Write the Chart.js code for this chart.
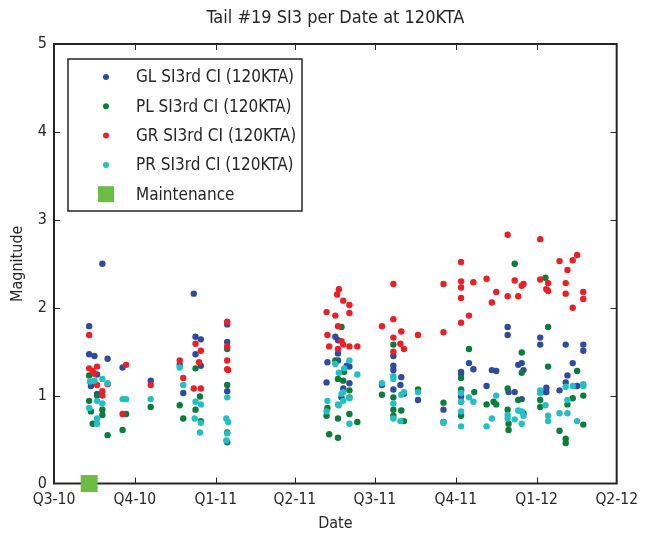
<!DOCTYPE html>
<html>
<head>
<meta charset="utf-8">
<title>Tail #19 SI3 per Date at 120KTA</title>
<script src="https://cdn.jsdelivr.net/npm/chart.js@4.4.1/dist/chart.umd.min.js"></script>
<style>
	html, body { margin: 0; padding: 0; background: #fff; }
	#wrap { width: 645px; height: 536px; }
</style>
</head>
<body>
<div id="wrap"><canvas id="siChart" width="645" height="536"></canvas></div>
<script>
var FONT = '"Liberation Sans Narrow", "Arial Narrow", "DejaVu Sans Condensed", "Liberation Sans", sans-serif';

// quarter ticks on the date axis
var quarterDates = ['2010-07-01', '2010-10-01', '2011-01-01', '2011-04-01', '2011-07-01', '2011-10-01', '2012-01-01', '2012-04-01'];
var quarterLabels = ['Q3-10', 'Q4-10', 'Q1-11', 'Q2-11', 'Q3-11', 'Q4-11', 'Q1-12', 'Q2-12'];
var magnitudeTicks = [0, 1, 2, 3, 4, 5];

var seriesNames = ['GL SI3rd CI (120KTA)', 'PL SI3rd CI (120KTA)', 'GR SI3rd CI (120KTA)', 'PR SI3rd CI (120KTA)', 'Maintenance'];
var seriesColors = ['#2f4b9f', '#0c7c3d', '#ec1f26', '#22bfc3', '#6cbd45'];

var glValues = [
	['2010-08-10', 1.79], ['2010-08-10', 1.47], ['2010-08-16', 1.45], ['2010-08-12', 1.11], ['2010-08-31', 1.42],
	['2010-08-19', 1.02], ['2010-08-25', 2.50], ['2010-08-19', 1.24],
	['2010-09-17', 1.32], ['2010-10-19', 1.17], ['2010-11-21', 1.35], ['2010-11-25', 1.03],
	['2010-12-07', 2.16], ['2010-12-09', 1.67], ['2010-12-15', 1.64], ['2010-12-09', 1.47], ['2010-12-15', 1.34],
	['2011-01-14', 1.81], ['2011-01-14', 1.61], ['2011-01-14', 1.05],
	['2011-05-17', 1.67], ['2011-05-20', 1.63], ['2011-05-20', 1.48], ['2011-05-08', 1.38], ['2011-05-20', 1.40],
	['2011-05-30', 1.34], ['2011-06-02', 1.33], ['2011-05-07', 1.15], ['2011-06-02', 1.14], ['2011-05-26', 1.08],
	['2011-05-24', 0.98],
	['2011-07-22', 1.45], ['2011-07-22', 1.34], ['2011-07-22', 1.29], ['2011-07-31', 1.21], ['2011-07-09', 1.12],
	['2011-07-22', 1.07], ['2011-07-30', 1.12], ['2011-08-03', 1.02], ['2011-08-19', 0.95],
	['2011-09-17', 0.84], ['2011-10-07', 1.27], ['2011-10-07', 1.25], ['2011-10-07', 1.06], ['2011-10-07', 0.99],
	['2011-10-07', 0.93], ['2011-10-16', 1.37], ['2011-10-21', 1.30], ['2011-11-05', 1.11], ['2011-11-11', 1.29],
	['2011-11-16', 1.28], ['2011-11-29', 1.78], ['2011-11-29', 1.69], ['2011-11-30', 1.04], ['2011-12-07', 1.04],
	['2011-12-11', 1.35], ['2011-12-15', 1.37], ['2011-12-17', 1.29], ['2011-12-15', 0.96],
	['2012-01-05', 1.66], ['2012-01-05', 1.58], ['2012-01-12', 1.09], ['2012-01-12', 1.04], ['2012-01-11', 1.04],
	['2012-01-27', 1.06], ['2012-02-03', 1.58], ['2012-02-05', 1.23], ['2012-02-03', 1.15], ['2012-02-11', 1.37],
	['2012-02-16', 1.11], ['2012-02-23', 1.58], ['2012-02-23', 1.51]
];

var plValues = [
	['2010-08-10', 1.23], ['2010-08-19', 1.00], ['2010-08-10', 0.94], ['2010-08-12', 0.82], ['2010-08-25', 0.84],
	['2010-08-25', 0.78], ['2010-08-14', 0.68], ['2010-08-31', 0.55],
	['2010-09-21', 0.79], ['2010-09-17', 0.61], ['2010-10-19', 0.87], ['2010-11-21', 0.89], ['2010-11-25', 0.74],
	['2010-12-09', 1.31], ['2010-12-14', 0.99], ['2010-12-09', 0.84], ['2010-12-15', 0.71],
	['2011-01-14', 1.53], ['2011-01-14', 1.12], ['2011-01-14', 0.58], ['2011-01-14', 0.47],
	['2011-05-24', 1.78], ['2011-05-17', 1.40], ['2011-05-27', 1.27], ['2011-05-20', 1.19], ['2011-05-26', 1.17],
	['2011-06-02', 1.06], ['2011-06-02', 0.98], ['2011-05-08', 0.86], ['2011-05-07', 0.77], ['2011-05-20', 0.74],
	['2011-06-02', 0.79], ['2011-06-11', 0.70], ['2011-05-10', 0.56], ['2011-05-20', 0.52],
	['2011-07-22', 1.58], ['2011-08-19', 1.07], ['2011-07-09', 1.01], ['2011-07-22', 0.98], ['2011-07-22', 0.84],
	['2011-07-31', 0.83], ['2011-07-22', 0.77], ['2011-08-03', 0.71],
	['2011-09-17', 0.92], ['2011-09-17', 0.70], ['2011-10-07', 1.20], ['2011-10-07', 1.07], ['2011-10-07', 0.77],
	['2011-10-16', 1.53], ['2011-10-22', 1.04], ['2011-11-05', 0.90], ['2011-11-13', 0.93], ['2011-11-16', 0.90],
	['2011-11-29', 1.08], ['2011-11-29', 0.84], ['2011-11-30', 0.68], ['2011-11-30', 0.61], ['2011-12-07', 2.50],
	['2011-12-11', 0.95], ['2011-12-15', 1.49], ['2011-12-15', 1.26], ['2011-12-17', 0.80],
	['2012-01-05', 0.95], ['2012-01-05', 0.87], ['2012-01-11', 2.34], ['2012-01-14', 1.78], ['2012-01-14', 1.33],
	['2012-01-27', 0.60], ['2012-02-03', 0.51], ['2012-02-03', 0.46], ['2012-02-05', 0.90], ['2012-02-11', 0.97],
	['2012-02-16', 1.28], ['2012-02-23', 1.00], ['2012-02-23', 0.67]
];

var grValues = [
	['2010-08-10', 1.69], ['2010-08-10', 1.31], ['2010-08-14', 1.28], ['2010-08-19', 1.33], ['2010-08-16', 1.25],
	['2010-08-19', 1.12], ['2010-08-31', 1.13], ['2010-08-25', 1.05], ['2010-08-25', 1.00],
	['2010-09-21', 1.35], ['2010-09-17', 0.79], ['2010-10-19', 1.12], ['2010-11-21', 1.40], ['2010-11-25', 1.20],
	['2010-12-09', 1.59], ['2010-12-15', 1.51], ['2010-12-13', 1.38], ['2010-12-07', 1.08], ['2010-12-15', 1.08],
	['2011-01-14', 1.84], ['2011-01-14', 1.56], ['2011-01-14', 1.40], ['2011-01-14', 1.30], ['2011-01-15', 1.29],
	['2011-05-21', 2.21], ['2011-05-19', 2.15], ['2011-05-26', 2.08], ['2011-06-02', 2.03], ['2011-05-07', 1.95],
	['2011-05-17', 1.91], ['2011-06-02', 1.94], ['2011-05-20', 1.79], ['2011-05-08', 1.69], ['2011-05-24', 1.62],
	['2011-05-26', 1.58], ['2011-05-10', 1.56], ['2011-05-20', 1.53], ['2011-06-02', 1.56], ['2011-06-11', 1.56],
	['2011-07-22', 2.27], ['2011-07-22', 1.87], ['2011-07-09', 1.79], ['2011-07-31', 1.73], ['2011-07-22', 1.66],
	['2011-07-30', 1.59], ['2011-08-03', 1.53], ['2011-07-22', 1.50], ['2011-08-19', 1.69],
	['2011-09-17', 2.27], ['2011-09-17', 1.72], ['2011-10-07', 2.52], ['2011-10-07', 2.30], ['2011-10-07', 2.23],
	['2011-10-07', 2.11], ['2011-10-07', 1.83], ['2011-10-16', 1.91], ['2011-10-21', 2.29], ['2011-11-05', 2.33],
	['2011-11-11', 2.06], ['2011-11-16', 2.18], ['2011-11-29', 2.83], ['2011-11-29', 2.13], ['2011-12-07', 2.31],
	['2011-12-11', 2.13], ['2011-12-15', 2.25], ['2011-12-17', 2.27],
	['2012-01-05', 2.78], ['2012-01-05', 2.32], ['2012-01-12', 2.21], ['2012-01-14', 2.19], ['2012-01-14', 2.28],
	['2012-01-27', 2.53], ['2012-02-05', 2.43], ['2012-02-11', 2.54], ['2012-02-16', 2.60], ['2012-02-03', 2.28],
	['2012-02-03', 2.16], ['2012-02-11', 2.00], ['2012-02-23', 2.18], ['2012-02-23', 2.10]
];

var prValues = [
	['2010-08-11', 1.16], ['2010-08-16', 1.17], ['2010-08-25', 1.19], ['2010-08-31', 1.14], ['2010-08-19', 0.94],
	['2010-08-25', 0.91], ['2010-08-10', 0.86], ['2010-08-19', 0.74], ['2010-08-19', 0.68],
	['2010-09-17', 0.96], ['2010-09-21', 0.96], ['2010-10-19', 0.96], ['2010-11-21', 1.32], ['2010-11-25', 1.12],
	['2010-12-09', 0.93], ['2010-12-15', 0.90], ['2010-12-08', 0.74], ['2010-12-15', 0.69], ['2010-12-14', 0.58],
	['2011-01-14', 0.98], ['2011-01-13', 0.74], ['2011-01-15', 0.70], ['2011-01-14', 0.57], ['2011-01-13', 0.49],
	['2011-06-02', 1.40], ['2011-05-17', 1.36], ['2011-05-27', 1.31], ['2011-05-21', 1.26], ['2011-06-11', 1.24],
	['2011-05-26', 1.04], ['2011-05-24', 1.02], ['2011-06-02', 0.97], ['2011-05-08', 0.94], ['2011-05-07', 0.82],
	['2011-05-20', 0.90], ['2011-05-21', 0.89], ['2011-05-26', 0.94], ['2011-06-02', 0.68],
	['2011-07-22', 1.22], ['2011-07-22', 1.19], ['2011-07-09', 1.14], ['2011-08-19', 1.04], ['2011-07-31', 1.01],
	['2011-08-03', 1.04], ['2011-07-22', 0.91], ['2011-07-22', 0.74], ['2011-07-30', 0.71],
	['2011-09-17', 0.69], ['2011-09-17', 0.70], ['2011-10-07', 1.03], ['2011-10-07', 0.93], ['2011-10-07', 0.82],
	['2011-10-07', 0.65], ['2011-10-16', 0.98], ['2011-10-21', 0.93], ['2011-11-05', 0.65], ['2011-11-11', 0.74],
	['2011-11-16', 1.00], ['2011-11-29', 0.78], ['2011-11-29', 0.74], ['2011-12-07', 0.73], ['2011-12-11', 0.83],
	['2011-12-15', 0.82], ['2011-12-17', 0.77], ['2011-12-15', 0.68],
	['2012-01-05', 1.06], ['2012-01-05', 1.03], ['2012-01-11', 0.89], ['2012-01-14', 0.77], ['2012-01-14', 0.71],
	['2012-01-27', 0.80], ['2012-02-05', 0.80], ['2012-02-03', 1.10], ['2012-02-11', 1.11], ['2012-02-05', 0.95],
	['2012-02-16', 0.71], ['2012-02-23', 1.13], ['2012-02-23', 1.11]
];

var maintenanceValues = [['2010-08-10', 0]];

// days since the first quarter tick, so a plain linear axis can be used
function dayNum(s) {
	var p = s.split('-');
	var t0 = Date.UTC(2010, 6, 1);
	return (Date.UTC(+p[0], +p[1] - 1, +p[2]) - t0) / 86400000;
}

function toPoints(list) {
	return list.map(function(d) {
		return { x: dayNum(d[0]), y: d[1] };
	});
}

var quarterDays = quarterDates.map(dayNum);

// box around the plot with the ticks pointing inwards, MATLAB style
var boxPlugin = {
	id: 'boxPlugin',
	beforeDatasetsDraw: function(chart) {
		var ctx = chart.ctx;
		var a = chart.chartArea;
		var xs = chart.scales.x;
		var ys = chart.scales.y;
		var tl = 6;
		ctx.save();
		ctx.strokeStyle = '#262626';
		ctx.lineWidth = 1;
		ctx.beginPath();
		quarterDays.forEach(function(d, i) {
			if (i === 0 || i === quarterDays.length - 1) return;
			var px = Math.round(xs.getPixelForValue(d)) + 0.5;
			ctx.moveTo(px, a.bottom);
			ctx.lineTo(px, a.bottom - tl);
			ctx.moveTo(px, a.top);
			ctx.lineTo(px, a.top + tl);
		});
		magnitudeTicks.forEach(function(v, i) {
			if (i === 0 || i === magnitudeTicks.length - 1) return;
			var py = Math.round(ys.getPixelForValue(v)) + 0.5;
			ctx.moveTo(a.left, py);
			ctx.lineTo(a.left + tl, py);
			ctx.moveTo(a.right, py);
			ctx.lineTo(a.right - tl, py);
		});
		ctx.stroke();
		ctx.lineWidth = 2;
		ctx.strokeRect(a.left, a.top, a.right - a.left, a.bottom - a.top);
		ctx.restore();
	}
};

// legend box inside the plot, upper left
var legendBox = {
	id: 'legendBox',
	afterDatasetsDraw: function(chart) {
		var ctx = chart.ctx;
		var a = chart.chartArea;
		var bx = a.left + 14, by = a.top + 15, bw = 234, bh = 152;
		var rowH = 29.3;
		ctx.save();
		ctx.fillStyle = '#fff';
		ctx.fillRect(bx, by, bw, bh);
		ctx.strokeStyle = '#262626';
		ctx.lineWidth = 1.5;
		ctx.strokeRect(bx, by, bw, bh);
		ctx.font = '17px ' + FONT;
		ctx.textBaseline = 'middle';
		ctx.textAlign = 'left';
		seriesNames.forEach(function(name, i) {
			var cy = by + 18 + i * rowH;
			var mx = bx + 38;
			ctx.fillStyle = seriesColors[i];
			if (i === 4) {
				ctx.fillRect(mx - 8, cy - 8, 16, 16);
			} else {
				ctx.beginPath();
				ctx.arc(mx, cy, 3, 0, Math.PI * 2);
				ctx.fill();
			}
			ctx.fillStyle = '#262626';
			ctx.fillText(name, bx + 68, cy + 1);
		});
		ctx.restore();
	}
};

function dotSet(label, values, color, order) {
	return {
		label: label,
		data: toPoints(values),
		backgroundColor: color,
		borderWidth: 0,
		pointRadius: 3.2,
		pointHoverRadius: 3.2,
		order: order
	};
}

var chartConfig = {
	type: 'scatter',
	data: {
		datasets: [
			dotSet(seriesNames[0], glValues, seriesColors[0], 4),
			dotSet(seriesNames[1], plValues, seriesColors[1], 3),
			dotSet(seriesNames[2], grValues, seriesColors[2], 2),
			dotSet(seriesNames[3], prValues, seriesColors[3], 1),
			{
				label: seriesNames[4],
				data: toPoints(maintenanceValues),
				backgroundColor: seriesColors[4],
				borderWidth: 0,
				pointStyle: 'rect',
				pointRadius: 12,
				pointHoverRadius: 12,
				clip: false,
				order: 0
			}
		]
	},
	options: {
		responsive: false,
		animation: false,
		events: [],
		layout: {
			padding: { left: 0, right: 28, top: 0, bottom: 0 }
		},
		scales: {
			x: {
				type: 'linear',
				min: quarterDays[0],
				max: quarterDays[quarterDays.length - 1],
				afterBuildTicks: function(scale) {
					scale.ticks = quarterDays.map(function(d) { return { value: d }; });
				},
				afterFit: function(scale) {
					scale.height = 52.5;
				},
				grid: { display: false, drawTicks: false },
				border: { display: false },
				ticks: {
					autoSkip: false,
					maxRotation: 0,
					padding: 7,
					color: '#262626',
					font: { family: FONT, size: 15.5 },
					callback: function(value) {
						var i = quarterDays.indexOf(value);
						return i >= 0 ? quarterLabels[i] : '';
					}
				},
				title: {
					display: true,
					text: 'Date',
					color: '#262626',
					font: { family: FONT, size: 16 },
					padding: { top: 0, bottom: 3 }
				}
			},
			y: {
				min: 0,
				max: 5,
				afterBuildTicks: function(scale) {
					scale.ticks = magnitudeTicks.map(function(v) { return { value: v }; });
				},
				afterFit: function(scale) {
					scale.width = 54;
				},
				grid: { display: false, drawTicks: false },
				border: { display: false },
				ticks: {
					padding: 7,
					color: '#262626',
					font: { family: FONT, size: 16 }
				},
				title: {
					display: true,
					text: 'Magnitude',
					color: '#262626',
					font: { family: FONT, size: 16 },
					padding: { top: 8, bottom: 0 }
				}
			}
		},
		plugins: {
			legend: { display: false },
			tooltip: { enabled: false },
			title: {
				display: true,
				fullSize: false,
				text: 'Tail #19 SI3 per Date at 120KTA',
				color: '#262626',
				font: { family: FONT, size: 18, weight: 'normal' },
				padding: { top: 7.5, bottom: 14.9 }
			}
		}
	},
	plugins: [boxPlugin, legendBox]
};

var chart = new Chart(document.getElementById('siChart'), chartConfig);
</script>
</body>
</html>
